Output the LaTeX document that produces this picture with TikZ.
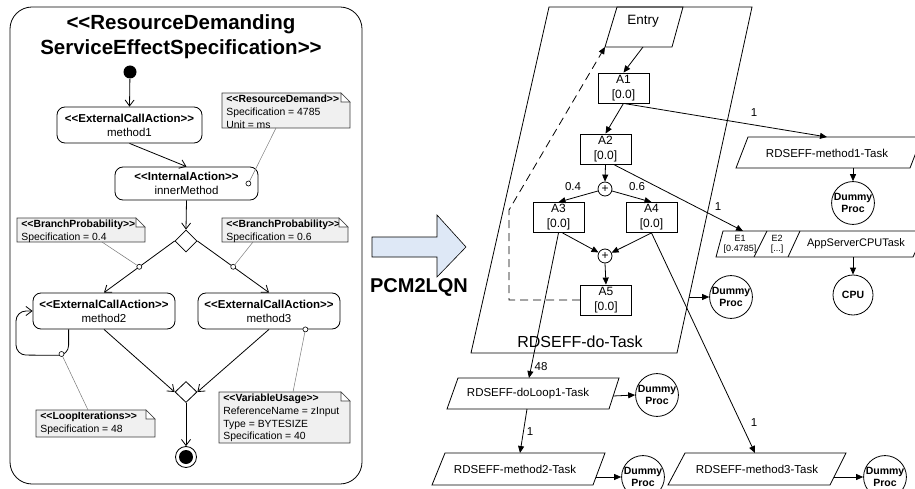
\documentclass[tikz,border=0pt]{standalone}
\usepackage{fontspec}
\setmainfont{Liberation Sans}
\usetikzlibrary{arrows.meta,shapes.geometric,calc}

\definecolor{notefill}{RGB}{240,240,240}
\definecolor{noteline}{RGB}{60,60,60}
\definecolor{pinline}{RGB}{120,120,120}
\definecolor{arrowfill}{RGB}{222,232,246}

\tikzset{
  title/.style={align=center, inner sep=0pt, font=\bfseries\fontsize{20.5}{25}\selectfont},
  act/.style={draw, rounded corners=8pt, minimum width=143pt, minimum height=36pt,
    align=center, inner sep=0pt, font=\fontsize{11.5}{14}\selectfont},
  uml/.style={-{Straight Barb[length=6pt,width=9pt]}},
  dec/.style={draw, diamond, minimum width=22pt, minimum height=22pt, inner sep=0pt},
  attach/.style={draw, circle, fill=white, minimum size=5pt, inner sep=0pt, line width=0.6pt},
  notetext/.style={anchor=north west, inner sep=0pt, align=left,
    font=\fontsize{10.4}{12.8}\selectfont},
  pin/.style={draw=pinline, line width=0.5pt},
  abox/.style={draw, minimum width=51pt, minimum height=30pt, inner sep=0pt,
    align=center, font=\fontsize{12}{15}\selectfont},
  lqn/.style={-{Triangle[length=7pt,width=6pt]}},
  proc/.style={draw, circle, minimum size=39pt, inner sep=0pt, align=center,
    font=\bfseries\fontsize{10.5}{11.5}\selectfont},
  junction/.style={draw, circle, minimum size=14pt, inner sep=0pt,
    font=\fontsize{12}{12}\selectfont},
  tasktext/.style={inner sep=0pt, font=\fontsize{11.5}{14}\selectfont},
  lbl/.style={inner sep=0pt, font=\fontsize{11.5}{14}\selectfont},
}

% UML note with a folded corner: #1,#2 top left, #3,#4 bottom right
\newcommand{\umlnote}[4]{%
  \draw[fill=notefill, draw=noteline, line width=0.6pt]
    (#1,#2) -- (#3-9,#2) -- (#3,#2+9) -- (#3,#4) -- (#1,#4) -- cycle;}
\newcommand{\umlfold}[4]{%
  \draw[fill=white, draw=noteline, line width=0.6pt]
    (#3-9,#2) -- (#3-9,#2+9) -- (#3,#2+9) -- cycle;}

\begin{document}
\begin{tikzpicture}[x=1pt,y=-1pt,line width=0.8pt]
\useasboundingbox (0,0) rectangle (915,489);

% ---------------- RDSEFF activity diagram ----------------
\draw[rounded corners=22pt] (10,7) rectangle (362,484);
\node[title] (title) at (181,36.5)
  {<{}<ResourceDemanding\\ServiceEffectSpecification>{}>};

\node[fill, circle, minimum size=13pt, inner sep=0pt] (start) at (130,72) {};
\node[act, minimum width=145pt] (m1) at (129.5,125)
  {\textbf{<{}<ExternalCallAction>{}>}\\method1};
\node[act, minimum height=33pt] (inner) at (186.5,183.5)
  {\textbf{<{}<InternalAction>{}>}\\innerMethod};
\node[dec] (branch) at (186,241) {};
\node[act, minimum width=142pt] (m2) at (104,311)
  {\textbf{<{}<ExternalCallAction>{}>}\\method2};
\node[act, minimum width=142pt] (m3) at (269,311)
  {\textbf{<{}<ExternalCallAction>{}>}\\method3};
\node[dec, minimum height=21pt] (merge) at (186,392) {};
\node[draw, circle, minimum size=21pt, inner sep=0pt] (stop) at (186,457) {};
\node[fill, circle, minimum size=14pt, inner sep=0pt] at (stop) {};

\draw[uml] (start) -- (m1.north);
\draw[uml] (m1.south) -- (inner.north);
\draw[uml] (inner.south) -- (branch.north);
\draw[uml] (branch.west) -- node[attach, pos=0.5] (bpLpin) {} (m2.north);
\draw[uml] (branch.east) -- node[attach, pos=0.5] (bpRpin) {} (m3.north);
\draw[uml] (m2.south) -- (merge.west);
\draw[uml] (m3.south) -- (merge.east);
\draw[uml] (merge.south) -- (stop.north);
\draw[uml, rounded corners=10pt] ($(m2.south west)+(36,0)$) -- ++(0,26)
  -- (16,355) -- (16,311) -- (m2.west);

% notes
\umlnote{222}{93}{350}{128}
\node[notetext] (rdtext) at (226,95)
  {\textbf{<{}<ResourceDemand>{}>}\\Specification = 4785\\Unit = ms};
\umlfold{222}{93}{350}{128}

\umlnote{17}{218}{145}{242}
\node[notetext] (bpLtext) at (21,220)
  {\textbf{<{}<BranchProbability>{}>}\\Specification = 0.4};
\umlfold{17}{218}{145}{242}

\umlnote{222}{218}{348}{242}
\node[notetext] (bpRtext) at (226,220)
  {\textbf{<{}<BranchProbability>{}>}\\Specification = 0.6};
\umlfold{222}{218}{348}{242}

\umlnote{36}{410}{155}{437}
\node[notetext] (litext) at (40,412)
  {\textbf{<{}<LoopIterations>{}>}\\Specification = 48};
\umlfold{36}{410}{155}{437}

\umlnote{219}{392}{350}{443}
\node[notetext] (vutext) at (223,393.5)
  {\textbf{<{}<VariableUsage>{}>}\\ReferenceName = zInput\\Type = BYTESIZE\\Specification = 40};
\umlfold{219}{392}{350}{443}

% note anchors
\coordinate (rdpin) at (276,128);
\coordinate (bpLnote) at (102,242);
\coordinate (bpRnote) at (253,242);
\coordinate (linote) at (88,410);
\coordinate (vunote) at (293,392);
\draw[pin] (rdpin) -- ($(inner.east)+(-10,0)$);
\draw[pin] (bpLnote) -- (bpLpin);
\draw[pin] (bpRnote) -- (bpRpin);
\draw[pin] (linote) -- (61.5,354);
\draw[pin] (vunote) -- ($(m3.south east)+(-35,0)$);
\node[attach] (innerpin) at ($(inner.east)+(-10,0)$) {};
\node[attach] (looppin) at (61.5,354) {};
\node[attach] (m3pin) at ($(m3.south east)+(-35,0)$) {};

% ---------------- transformation arrow ----------------
\draw[fill=arrowfill, line width=0.6pt] (372,237) -- (437,237) -- (437,215)
  -- (466,247) -- (437,277) -- (437,257) -- (372,257) -- cycle;
\node[inner sep=0pt, font=\bfseries\fontsize{20}{24}\selectfont] (trafo) at (419,287) {PCM2LQN};

% ---------------- LQN ----------------
% task of the RDSEFF and its entry
\draw (549,7) -- (752,7) -- (677,353) -- (471,353) -- cycle;
\node[inner sep=0pt, font=\fontsize{16}{18}\selectfont] (doT) at (580,342) {RDSEFF-do-Task};
\draw (617,7) -- (683,7) -- (672,47) -- (605,47) -- cycle;
\node[inner sep=0pt, font=\fontsize{13.5}{15}\selectfont] (entry) at (643,21) {Entry};
\coordinate (entryB) at (643,47);
\coordinate (entryBL) at (605,47);
\coordinate (doR) at (689,297);

\node[abox] (A1) at (623.5,88) {A1\\{[0.0]}};
\node[abox] (A2) at (605.5,149) {A2\\{[0.0]}};
\node[junction] (fork) at (605,189) {+};
\node[abox] (A3) at (558.5,217.5) {A3\\{[0.0]}};
\node[abox] (A4) at (651.5,217.5) {A4\\{[0.0]}};
\node[junction] (join) at (605,256) {+};
\node[abox] (A5) at (606,300) {A5\\{[0.0]}};
\node[lbl] (p04) at (573,187) {0.4};
\node[lbl] (p06) at (637,187) {0.6};

\draw[lqn] (entryB) -- (A1.north);
\draw[lqn] (A1.south) -- (A2.north);
\draw[lqn] (A2.south) -- (fork.north);
\draw[lqn] (fork) -- (A3.north);
\draw[lqn] (fork) -- (A4.north);
\draw[lqn] ($(A3.south)+(4,0)$) -- (join);
\draw[lqn] (A4.south) -- (join);
\draw[lqn] (join.south) -- (A5.north);
\draw[lqn, dash pattern=on 8pt off 5pt] (A5.west) -- (509,300) -- (509,210) -- (entryBL);

% called tasks
\draw (748,137) -- (922,137) -- (910,168) -- (736,168) -- cycle;
\node[tasktext] (m1T) at (827,153) {RDSEFF-method1-Task};
\coordinate (m1Tin) at (827,137);
\coordinate (m1Tout) at (853,168);
\node[proc] (dp1) at (853,203) {Dummy\\Proc};

\draw (723,231) -- (925,231) -- (913,257) -- (716,257) -- cycle;
\draw (767,231) -- (754,257);
\draw (800,231) -- (788,257);
\node[inner sep=0pt, align=center, font=\fontsize{9}{10}\selectfont] (e1) at (740,244) {E1\\{[0.4785]}};
\node[inner sep=0pt, align=center, font=\fontsize{9}{10}\selectfont] (e2) at (777,244.5) {E2\\{[...]}};
\node[inner sep=0pt, font=\fontsize{11}{13}\selectfont] (cpuT) at (856,244) {AppServerCPUTask};
\coordinate (e1in) at (743,231);
\coordinate (cpuTout) at (853,257);
\node[proc, minimum size=40pt] (cpu) at (853,295) {CPU};

\node[proc] (dp5) at (731,297) {Dummy\\Proc};

\draw (458,378) -- (619,378) -- (609,409) -- (447,409) -- cycle;
\node[tasktext] (loopT) at (528,394) {RDSEFF-doLoop1-Task};
\coordinate (loopIn) at (529,378);
\coordinate (loopOut) at (527,409);
\coordinate (loopR) at (613,396);
\node[proc] (dpL) at (657,395) {Dummy\\Proc};

\draw (445,453) -- (605,453) -- (593,485) -- (432,485) -- cycle;
\node[tasktext] (m2T) at (515,469) {RDSEFF-method2-Task};
\coordinate (m2Tin) at (520,453);
\coordinate (m2TR) at (596,477);
\node[proc] (dp2) at (643,477) {Dummy\\Proc};

\draw (685,453) -- (846,453) -- (830,485) -- (668,485) -- cycle;
\node[tasktext] (m3T) at (757,469) {RDSEFF-method3-Task};
\coordinate (m3Tin) at (755,453);
\coordinate (m3TR) at (834,477);
\node[proc] (dp3) at (885,477) {Dummy\\Proc};

% calls
\draw[lqn] (A1.south) -- (m1Tin);
\node[lbl] (c1) at (754,113) {1};
\draw[lqn] ($(A2.south)+(8,0)$) -- (e1in);
\node[lbl] (c2) at (718,207) {1};
\draw[lqn] (A3.south) -- (loopIn);
\node[lbl] (c3) at (541,367) {48};
\draw[lqn] (loopOut) -- (m2Tin);
\node[lbl] (c4) at (530,432) {1};
\draw[lqn] (A4.south) -- (m3Tin);
\node[lbl] (c5) at (754,423) {1};

% processors
\draw[lqn] (m1Tout) -- (dp1.north);
\draw[lqn] (cpuTout) -- (cpu.north);
\draw[lqn] (doR) -- (dp5.west);
\draw[lqn] (loopR) -- (dpL.west);
\draw[lqn] (m2TR) -- (dp2.west);
\draw[lqn] (m3TR) -- (dp3.west);
\end{tikzpicture}
\end{document}
